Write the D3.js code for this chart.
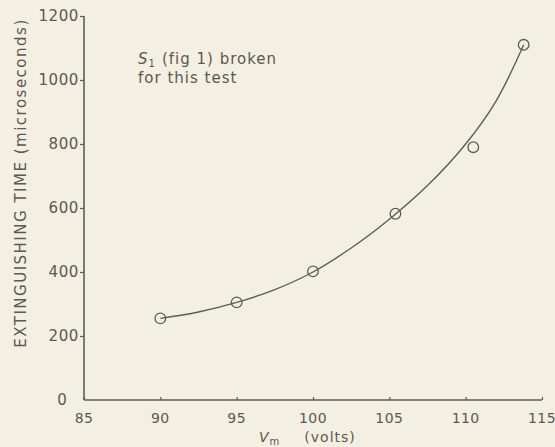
<!DOCTYPE html>
<html><head><meta charset="utf-8">
<script src="https://cdn.jsdelivr.net/npm/d3@7"></script>
<style>
html,body{margin:0;padding:0;background:#f4efe3;}
svg{display:block;}
text{font-family:"DejaVu Sans",sans-serif;fill:#5d5850;}
</style></head>
<body><svg id="c" width="555" height="447"></svg>
<script>
// Measured points
const voltage = [90, 95, 100, 105.4, 110.5, 113.8];
const extTime = [255, 305, 402, 582, 790, 1110];
// Smooth curve
const curveVolts = [90, 92.5, 95, 97.5, 100, 102.5, 105, 107.5, 110, 112, 113.8];
const curveTime  = [255, 275, 305, 345, 400, 475, 565, 670, 800, 935, 1110];
const xTicks = [85, 90, 95, 100, 105, 110, 115];
const yTicks = [0, 200, 400, 600, 800, 1000, 1200];

const svg = d3.select("#c");
const x = d3.scaleLinear().domain([85, 115]).range([84, 542]);
const y = d3.scaleLinear().domain([0, 1200]).range([400, 16]);
const ink = "#5b5e55";

// axes
const yAxis = svg.append("g").attr("transform", "translate(84,0)")
  .call(d3.axisLeft(y).tickValues(yTicks.filter(d=>d>0)).tickSize(4).tickFormat(d=>d));
yAxis.select(".domain").attr("stroke", ink).attr("stroke-width", 1.6).attr("d", `M0,${y(1200)}V${y(0)}`);
yAxis.selectAll(".tick line").attr("stroke", ink).attr("stroke-width", 1.3);
yAxis.selectAll(".tick text").attr("x", -5).attr("font-size", 15).attr("letter-spacing", 0.6).attr("fill", "#5d5850");

const xAxis = svg.append("g").attr("transform", "translate(0,400)")
  .call(d3.axisTop(x).tickValues(xTicks).tickSize(3).tickFormat(""));
xAxis.select(".domain").attr("stroke", ink).attr("stroke-width", 1.6).attr("d", `M${x(85)},0H${x(115)}`);
xAxis.selectAll(".tick line").attr("stroke", ink).attr("stroke-width", 1.2);
svg.append("g").selectAll("text").data(xTicks).join("text")
  .attr("x", d => x(d)).attr("y", 423).attr("text-anchor", "middle")
  .attr("font-size", 14).attr("letter-spacing", 0.4).text(d => d);

// origin "0"
svg.append("text").attr("x", 62).attr("y", 405).attr("text-anchor", "middle")
  .attr("font-size", 15).text("0");

// curve
svg.append("path").datum(curveVolts.map((v,i)=>[v, curveTime[i]]))
  .attr("fill", "none").attr("stroke", ink).attr("stroke-width", 1.4)
  .attr("d", d3.line().x(d=>x(d[0])).y(d=>y(d[1])).curve(d3.curveCatmullRom));

// points
svg.append("g").selectAll("circle").data(voltage.map((v,i)=>[v, extTime[i]])).join("circle")
  .attr("cx", d=>x(d[0])).attr("cy", d=>y(d[1])).attr("r", 5.3)
  .attr("fill", "none").attr("stroke", ink).attr("stroke-width", 1.3);

// y title
svg.append("text").attr("transform", "translate(26,183) rotate(-90)")
  .attr("text-anchor", "middle").attr("font-size", 15).attr("letter-spacing", 1.5)
  .text("EXTINGUISHING TIME (microseconds)");

// x title
const xt = svg.append("text").attr("x", 259).attr("y", 442).attr("font-size", 14).attr("letter-spacing", 1);
xt.append("tspan").attr("font-style", "italic").text("V");
xt.append("tspan").attr("font-size", 10).attr("dy", 3).text("m");
xt.append("tspan").attr("dy", -3).attr("dx", 24).text("(volts)");

// annotation
const a1 = svg.append("text").attr("x", 138).attr("y", 64).attr("font-size", 15).attr("letter-spacing", 1);
a1.append("tspan").attr("font-style", "italic").text("S");
a1.append("tspan").attr("font-size", 10).attr("dy", 3).text("1");
a1.append("tspan").attr("dy", -3).attr("dx", 6).text("(fig 1) broken");
svg.append("text").attr("x", 138).attr("y", 83).attr("font-size", 15).attr("letter-spacing", 1)
  .text("for this test");
</script></body></html>
